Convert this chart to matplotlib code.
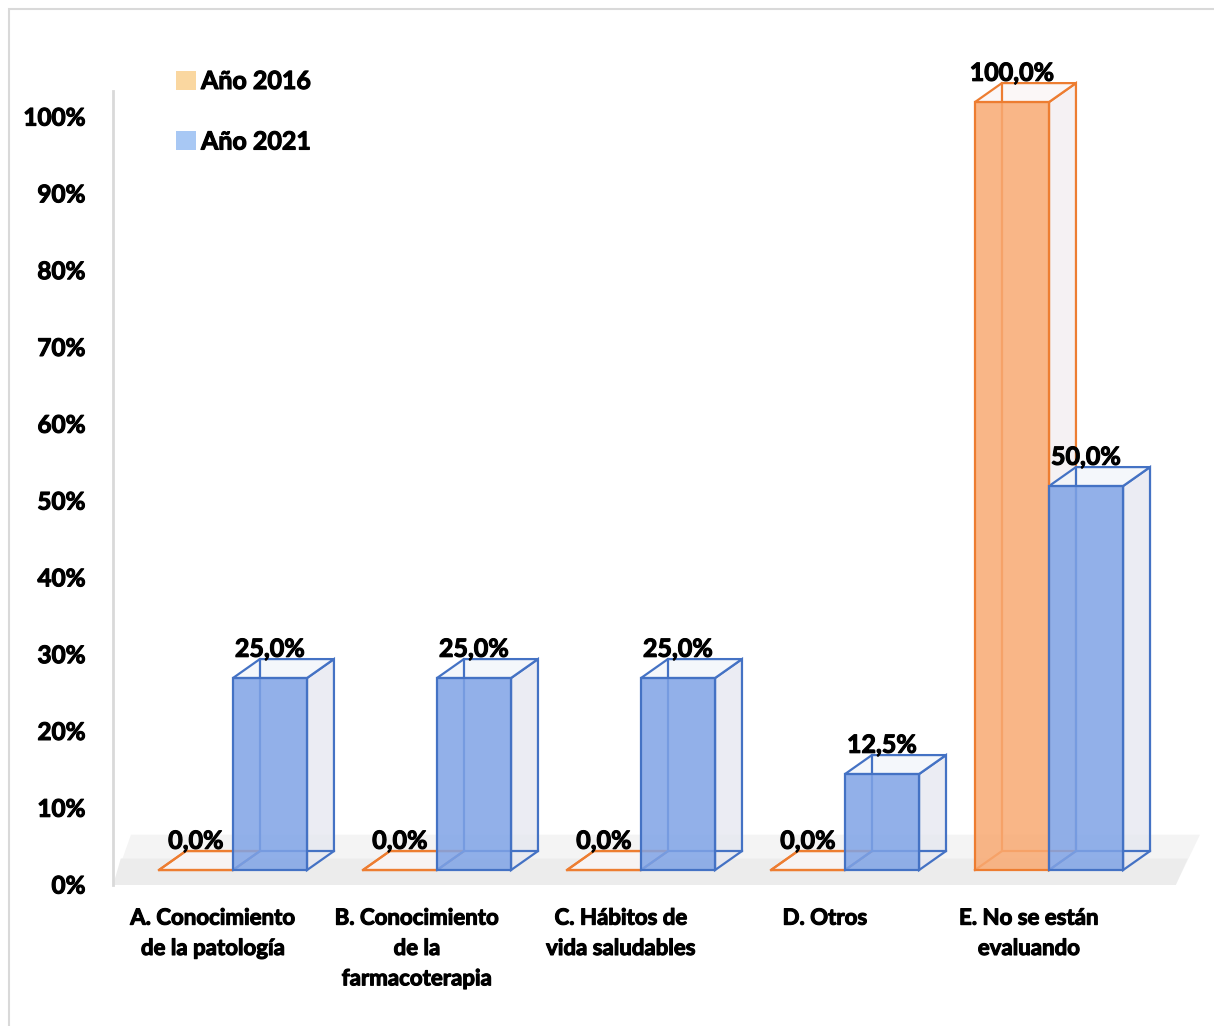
import matplotlib
matplotlib.use("Agg")
import matplotlib.pyplot as plt
import matplotlib.patheffects as pe
from matplotlib.patches import Polygon, Patch, Rectangle
from matplotlib.transforms import ScaledTranslation

plt.rcParams['font.family'] = ['Lato', 'DejaVu Sans']
plt.rcParams['font.weight'] = 'bold'

###
# Data
###

categories = [
    "A. Conocimiento\nde la patología",
    "B. Conocimiento\nde la\nfarmacoterapia",
    "C. Hábitos de\nvida saludables",
    "D. Otros",
    "E. No se están\nevaluando",
]
series_names = ["Año 2016", "Año 2021"]
values_2016 = [0.0, 0.0, 0.0, 0.0, 100.0]
values_2021 = [25.0, 25.0, 25.0, 12.5, 50.0]
y_ticks = [0, 10, 20, 30, 40, 50, 60, 70, 80, 90, 100]

###
# Style
###

W = 0.363              # bar width (data units)
DX, DY = 0.132, 2.47   # fake depth offset
WEIGHT = "bold"
HEAVY = [pe.withStroke(linewidth=0.8, foreground="black")]  # thicken text a little
styles = [
    # front, edge, side, top, legend
    dict(face=(0.973, 0.663, 0.447, 0.85), edge="#ED7D31", side=(0.95, 0.93, 0.94, 0.75),
         top=(0.98, 0.96, 0.96, 0.8), legend="#FAD7A0"),
    dict(face=(0.498, 0.639, 0.902, 0.85), edge="#4472C4", side=(0.90, 0.91, 0.94, 0.8),
         top=(0.95, 0.96, 0.98, 0.8), legend="#A8C8F4"),
]


def bar3d(ax, xc, v, st):
    x0, x1 = xc - W / 2, xc + W / 2
    lw = 1.6
    ax.add_patch(Polygon([(x1, 0), (x1 + DX, DY), (x1 + DX, v + DY), (x1, v)],
                         closed=True, facecolor=st["side"], edgecolor=st["edge"], lw=lw, zorder=2))
    ax.add_patch(Polygon([(x0, v), (x1, v), (x1 + DX, v + DY), (x0 + DX, v + DY)],
                         closed=True, facecolor=st["top"], edgecolor=st["edge"], lw=lw, zorder=2))
    # hidden back edges, seen through the front face
    ax.plot([x0 + DX, x0 + DX, x1 + DX], [v + DY, DY, DY], color=st["edge"], lw=lw, zorder=2)
    ax.plot([x0, x0 + DX], [0, DY], color=st["edge"], lw=lw, zorder=2)
    ax.bar(xc, v, W, bottom=0, color=st["face"], edgecolor=st["edge"], lw=lw, zorder=3)
    ax.text(xc, v + DY + 0.3, f"{v:.1f}%".replace(".", ","), ha="center", va="baseline",
            fontsize=18, fontweight=WEIGHT, zorder=5, path_effects=HEAVY)


###
# Plot
###

fig = plt.figure(figsize=(12.14, 10.26), dpi=100)
ax = fig.add_axes([113 / 1214, 1 - 885.4 / 1026, 1087 / 1214, 829.4 / 1026])
ax.set_xlim(-0.588, 4.74)
ax.set_ylim(-2, 106)

# floor (two layers for a soft fade towards the back)
ax.add_patch(Polygon([(-0.588, -2), (4.62, -2), (4.74, 4.6), (-0.5, 4.6)], closed=True,
                     facecolor="#F4F4F4", edgecolor="none", zorder=1))
ax.add_patch(Polygon([(-0.588, -2), (4.62, -2), (4.68, 1.5), (-0.55, 1.5)], closed=True,
                     facecolor="#ECECEC", edgecolor="none", zorder=1))

x = list(range(len(categories)))
for i in x:
    bar3d(ax, i - W / 2, values_2016[i], styles[0])
    bar3d(ax, i + W / 2, values_2021[i], styles[1])

ax.set_yticks(y_ticks)
ax.set_yticklabels([f"{t}%" for t in y_ticks], fontsize=17.5, fontweight=WEIGHT)
ax.set_xticks(x)
ax.set_xticklabels(categories, fontsize=16, fontweight=WEIGHT, linespacing=1.55)
ax.tick_params(axis="y", length=0, pad=20)
ax.tick_params(axis="x", length=0, pad=16)

for lbl in ax.get_yticklabels():
    lbl.set_transform(lbl.get_transform() + ScaledTranslation(0, -0.14, fig.dpi_scale_trans))
    lbl.set_path_effects(HEAVY)
for lbl in ax.get_xticklabels():
    lbl.set_transform(lbl.get_transform() + ScaledTranslation(-0.20, 0, fig.dpi_scale_trans))
    lbl.set_path_effects(HEAVY)

for side in ["top", "right", "bottom"]:
    ax.spines[side].set_visible(False)
ax.spines["left"].set_color("#D9D9D9")
ax.spines["left"].set_linewidth(2)
ax.spines["left"].set_bounds(-2, 101.5)

handles = [Patch(facecolor=st["legend"], edgecolor="none") for st in styles]
leg = fig.legend(handles, series_names, loc="upper left", bbox_to_anchor=(176 / 1214, 1 - 70 / 1026),
                 frameon=False, prop={"weight": WEIGHT, "size": 18}, borderpad=0,
                 borderaxespad=0, handlelength=0.8, handleheight=0.8, handletextpad=0.2, labelspacing=1.5)
for t in leg.get_texts():
    t.set_path_effects(HEAVY)

# outer chart border
fig.patches.append(Rectangle((9 / 1214, -0.05), 1.2, 1.05 - 9 / 1026, transform=fig.transFigure,
                             fill=False, edgecolor="#D9D9D9", lw=1.5))

fig.savefig("out.png", dpi=100)
